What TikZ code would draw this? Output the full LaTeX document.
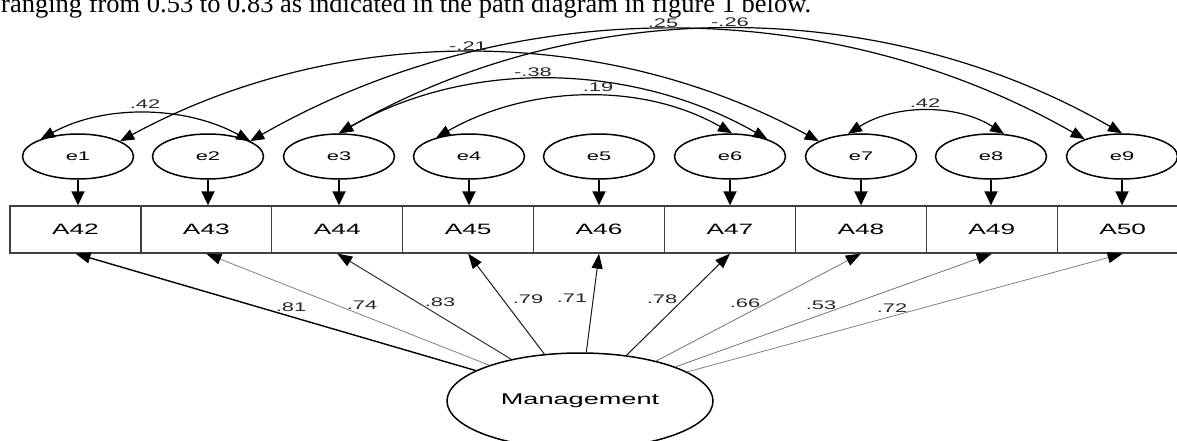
\documentclass[tikz,border=0pt]{standalone}
\usepackage{fontspec}
\setmainfont{Liberation Serif}
\newfontfamily\diagfont[FakeStretch=1.75]{Liberation Sans}
\usetikzlibrary{arrows.meta,shapes.geometric}
\begin{document}
\begin{tikzpicture}[x=1pt,y=-1pt,
  errnode/.style={ellipse,draw,line width=1.5pt,minimum width=111pt,minimum height=45pt,inner sep=0pt,font=\diagfont\fontsize{12.5}{14}\selectfont},
  obsbox/.style={rectangle,draw=black!75,line width=1.3pt,minimum width=130.9pt,minimum height=47pt,inner sep=0pt,font=\diagfont\fontsize{15}{17}\selectfont},
  latnode/.style={ellipse,draw,line width=1.5pt,minimum width=266pt,minimum height=96pt,inner sep=0pt,font=\diagfont\fontsize{15.5}{17}\selectfont},
  coeflabel/.style={font=\diagfont\fontsize{12.5}{14}\selectfont,inner sep=0pt,text=black!85},
  covarc/.style={line width=1.2pt,{Triangle[length=14pt,width=11pt]}-{Triangle[length=14pt,width=11pt]}},
  resarrow/.style={line width=1.8pt,-{Triangle[length=14pt,width=13pt]}},
  loadarrow/.style={-{Triangle[length=15pt,width=11pt,color=black]}},
]
\useasboundingbox (0,0) rectangle (1177,441);
\clip (0,0) rectangle (1177,441);

% top text
\node[anchor=base west,inner sep=0pt,font=\fontsize{26.5}{30}\selectfont] (toptext) at (1,12.5)
  {ranging from 0.53 to 0.83 as indicated in the path diagram in figure 1 below.};

% observed boxes
\foreach \n [count=\k from 0] in {42,...,50}
  \node[obsbox] (A\n) at ({10+130.9*(\k+0.5)},229.5) {A\n};

% error ellipses
\foreach \i/\x in {1/78,2/208,3/339,4/469,5/599,6/730,7/861,8/991,9/1122}
  \node[errnode] (e\i) at (\x,156.5) {e\i};

% residual arrows
\foreach \i/\n in {1/42,2/43,3/44,4/45,5/46,6/47,7/48,8/49,9/50}
  \draw[resarrow] (e\i.south) -- (e\i.south |- A\n.north);

% latent
\node[latnode] (M) at (580,401) {Management};

% loadings
\draw[loadarrow,line width=1.4pt,black] (M) -- (A42.south);
\draw[loadarrow,line width=0.8pt,black!50] (M) -- (A43.south);
\draw[loadarrow,line width=1pt,black!80] (M) -- (A44.south);
\draw[loadarrow,line width=1pt,black!90] (M) -- (A45.south);
\draw[loadarrow,line width=1pt,black!90] (M) -- (A46.south);
\draw[loadarrow,line width=1pt,black!90] (M) -- (A47.south);
\draw[loadarrow,line width=0.8pt,black!55] (M) -- (A48.south);
\draw[loadarrow,line width=0.8pt,black!55] (M) -- (A49.south);
\draw[loadarrow,line width=0.8pt,black!50] (M) -- (A50.south);

\node[coeflabel] (l42) at (291,307) {.81};
\node[coeflabel] (l43) at (362,305) {.74};
\node[coeflabel] (l44) at (440,302) {.83};
\node[coeflabel] (l45) at (528,299) {.79};
\node[coeflabel] (l46) at (572,298) {.71};
\node[coeflabel] (l47) at (662,299) {.78};
\node[coeflabel] (l48) at (745,303) {.66};
\node[coeflabel] (l49) at (821,305) {.53};
\node[coeflabel] (l50) at (892,308) {.72};

% covariances
\draw[covarc] (e1.155) .. controls +(64.3,-35.3) and +(-64.3,-35.3) .. (e2.20);
\draw[covarc] (e1.20) .. controls +(217.8,-118) and +(-217.8,-118) .. (e7.160);
\draw[covarc] (e2.20) .. controls +(258.6,-147.4) and +(-258.6,-147.4) .. (e9.155);
\draw[covarc] (e3.90) .. controls +(241.8,-138.7) and +(-241.8,-138.7) .. (e9.90);
\draw[covarc] (e3.90) .. controls +(132.1,-75.6) and +(-132.1,-75.6) .. (e6.25);
\draw[covarc] (e4.150) .. controls +(91.1,-52) and +(-91.1,-52) .. (e6.85);
\draw[covarc] (e7.120) .. controls +(47.3,-30.1) and +(-47.3,-30.1) .. (e8.60);

\node[coeflabel] (c12) at (145,104) {.42};
\node[coeflabel] (c17) at (468,46) {-.21};
\node[coeflabel] (c29) at (663,23) {.25};
\node[coeflabel] (c39) at (730,22) {-.26};
\node[coeflabel] (c36) at (533,72) {-.38};
\node[coeflabel] (c46) at (598,87) {.19};
\node[coeflabel] (c78) at (925,103) {.42};
\end{tikzpicture}
\end{document}
